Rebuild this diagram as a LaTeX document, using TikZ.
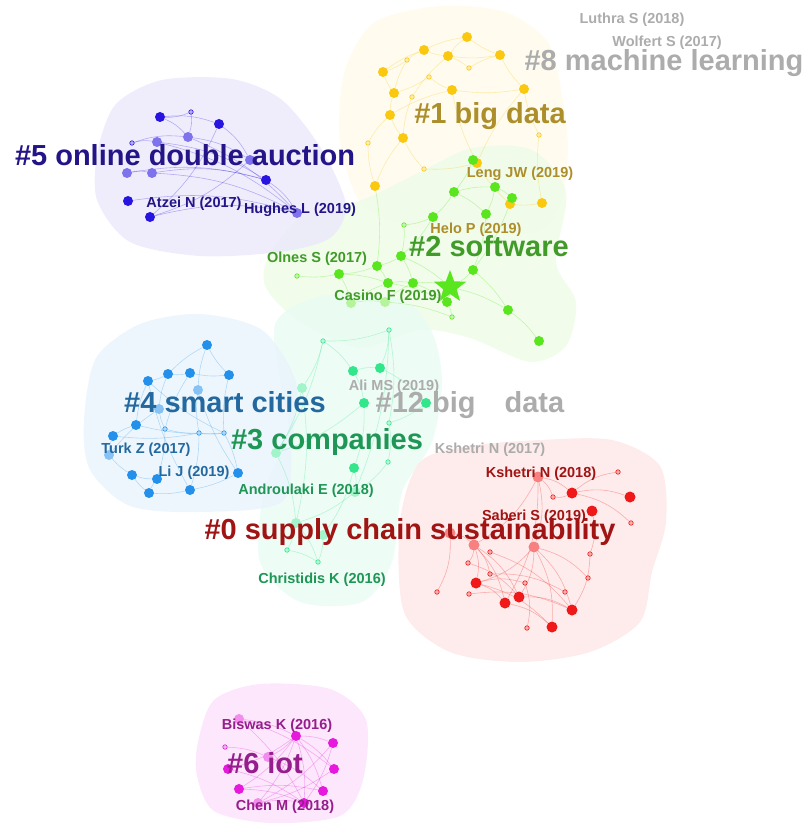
\documentclass[tikz,border=0pt]{standalone}
\usepackage{fontspec}
\setmainfont{Liberation Sans}
\usetikzlibrary{shapes.geometric,backgrounds}
\definecolor{auction}{RGB}{40,20,225}
\definecolor{auctiontxt}{RGB}{35,20,135}
\definecolor{bigdata}{RGB}{250,200,15}
\definecolor{bigdatatxt}{RGB}{172,142,42}
\definecolor{softw}{RGB}{90,230,30}
\definecolor{softwtxt}{RGB}{65,155,40}
\definecolor{firms}{RGB}{50,230,140}
\definecolor{firmstxt}{RGB}{30,150,85}
\definecolor{cities}{RGB}{35,145,235}
\definecolor{citiestxt}{RGB}{35,105,160}
\definecolor{supply}{RGB}{240,25,25}
\definecolor{supplytxt}{RGB}{160,20,20}
\definecolor{iot}{RGB}{230,25,220}
\definecolor{iottxt}{RGB}{150,30,140}
\definecolor{faded}{RGB}{172,172,172}
\tikzset{
  hull/.style={fill=#1,draw=none,opacity=0.85},
  dot/.style={circle,fill=#1,inner sep=0pt,minimum size=10pt},
  dot/.default=auction,
  seed/.style={circle,draw=#1,fill=#1!35,line width=0.6pt,inner sep=0pt,minimum size=4.5pt},
  link/.style={draw=#1,opacity=0.3,line width=0.6pt},
  cluster/.style={text=#1,anchor=base,inner sep=0pt,font=\fontsize{29}{30}\selectfont\bfseries},
  paper/.style={text=#1,anchor=base,inner sep=0pt,font=\fontsize{14.5}{15}\selectfont\bfseries},
}
\begin{document}
\begin{tikzpicture}[x=1pt,y=-1pt]
  \useasboundingbox (0,0) rectangle (807,829);
  % cluster areas
  \begin{scope}[on background layer]
    \fill[hull=bigdata!8] plot[smooth cycle] coordinates {(345,70) (375,22) (440,6) (505,12) (548,42) (562,95) (568,150) (560,205) (535,232) (470,232) (415,226) (362,205) (340,140)};
    \fill[hull=softw!10] plot[smooth cycle] coordinates {(268,258) (300,218) (362,200) (420,172) (472,148) (532,150) (566,192) (556,262) (576,302) (566,346) (530,362) (470,338) (420,330) (360,348) (300,322) (266,288)};
    \fill[hull=firms!10] plot[smooth cycle] coordinates {(276,322) (322,296) (402,300) (432,332) (442,382) (432,442) (402,492) (392,562) (362,602) (300,602) (260,562) (264,492) (288,432) (280,382)};
    \fill[hull=cities!9] plot[smooth cycle] coordinates {(84,420) (96,358) (140,324) (200,314) (262,330) (296,382) (292,442) (282,502) (200,512) (130,506) (90,470)};
    \fill[hull=auction!9] plot[smooth cycle] coordinates {(98,150) (116,104) (162,80) (232,79) (282,100) (322,150) (346,205) (330,238) (280,252) (200,256) (130,242) (97,200)};
    \fill[hull=supply!10] plot[smooth cycle] coordinates {(400,522) (420,462) (470,446) (540,440) (612,440) (660,466) (666,522) (652,572) (640,622) (590,652) (520,662) (450,652) (404,612)};
    \fill[hull=iot!12] plot[smooth cycle] coordinates {(198,742) (214,700) (260,684) (330,689) (366,720) (363,780) (340,816) (270,823) (214,811) (197,776)};
  \end{scope}
  % articles
  \foreach \n/\x/\y in {u1/160/117,u3/219/124,u10/266/180,u11/128/201,u12/150/217}
    \node[dot=auction] (\n) at (\x,\y) {};
  \foreach \n/\x/\y in {u5/157/142,u6/188/137,u7/250/160,u8/127/173,u9/152/173,u13/297/213}
    \node[dot=auction!60] (\n) at (\x,\y) {};
  \foreach \n/\x/\y in {u2/191/112,u4/132/143}
    \node[seed=auction] (\n) at (\x,\y) {};
  \foreach \n/\x/\y in {y1/467/37,y2/424/50,y3/448/56,y4/500/55,y5/383/72,y6/394/93,y7/452/90,y8/524/89,y9/390/115,y10/403/138,y11/375/186,y12/477/163,y13/510/204,y14/542/203}
    \node[dot=bigdata] (\n) at (\x,\y) {};
  \foreach \n/\x/\y in {ya/407/60,yb/429/77,yc/469/68,yd/412/97,ye/539/135,yf/368/143,yg/424/169}
    \node[seed=bigdata] (\n) at (\x,\y) {};
  \foreach \n/\x/\y in {g1/454/192,g2/495/187,g3/512/198,g4/486/214,g5/433/217,g6/401/256,g7/377/266,g8/339/274,g9/388/283,g10/413/283,g11/473/270,g12/447/302,g15/508/310,g16/539/341,g17/473/160}
    \node[dot=softw] (\n) at (\x,\y) {};
  \foreach \n/\x/\y in {g13/351/303,g14/385/302}
    \node[dot=softw!45] (\n) at (\x,\y) {};
  \foreach \n/\x/\y in {ga/404/225,gb/297/276,gc/452/317}
    \node[seed=softw] (\n) at (\x,\y) {};
  \node[star,star points=5,star point ratio=2.4,fill=softw,inner sep=0pt,minimum size=34pt] (gs) at (450,287) {};
  \foreach \n/\x/\y in {t1/353/371,t2/380/368,t4/364/403,t5/426/403,t7/354/468}
    \node[dot=firms] (\n) at (\x,\y) {};
  \foreach \n/\x/\y in {t3/302/388,t6/276/453,t8/355/492,t9/296/523,t10/323/535}
    \node[dot=firms!45] (\n) at (\x,\y) {};
  \foreach \n/\x/\y in {ta/389/330,tb/323/341,tc/389/423,td/388/462,te/287/550,tf/318/562}
    \node[seed=firms] (\n) at (\x,\y) {};
  \foreach \n/\x/\y in {b1/207/345,b2/148/381,b3/168/374,b4/190/373,b5/229/375,b8/136/425,b9/113/436,b11/132/475,b12/157/479,b13/149/493,b14/190/490,b15/238/473}
    \node[dot=cities] (\n) at (\x,\y) {};
  \foreach \n/\x/\y in {b6/198/390,b7/159/409,b10/109/455}
    \node[dot=cities!55] (\n) at (\x,\y) {};
  \foreach \n/\x/\y in {ba/165/429,bb/199/433,bc/224/433}
    \node[seed=cities] (\n) at (\x,\y) {};
  \foreach \n/\x/\y in {r2/572/493,r3/630/497,r4/592/511,r8/476/583,r9/519/597,r10/505/603,r11/572/610,r12/552/627}
    \node[dot=supply,minimum size=11pt] (\n) at (\x,\y) {};
  \foreach \n/\x/\y in {r1/538/477,r5/450/533,r6/474/545,r7/534/547}
    \node[dot=supply!55,minimum size=11pt] (\n) at (\x,\y) {};
  \foreach \n/\x/\y in {ra/618/472,rb/553/497,rc/631/523,rd/590/554,re/490/552,rf/468/563,rg/490/574,rh/588/578,ri/525/583,rj/437/592,rk/469/594,rl/565/592,rm/527/628}
    \node[seed=supply] (\n) at (\x,\y) {};
  \foreach \n/\x/\y in {m2/296/736,m3/333/743,m5/228/769,m6/334/769,m7/239/789,m8/323/791,m10/304/803}
    \node[dot=iot] (\n) at (\x,\y) {};
  \foreach \n/\x/\y in {m1/239/719,m4/268/757,m9/258/803}
    \node[dot=iot!50] (\n) at (\x,\y) {};
  \node[seed=iot] (ma) at (225,747) {};
  % co-citation links
  \begin{scope}[on background layer]
    \foreach \a/\b in {u1/u3,u1/u6,u2/u6,u2/u1,u4/u6,u4/u5,u5/u10,u6/u7,u3/u7,u5/u13,u6/u13,u8/u10,u9/u10,u9/u13,u7/u12,u10/u13,u11/u13,u12/u13,u8/u9,u3/u12}
      \draw[link=auction] (\a) to[bend left=12] (\b);
    \foreach \a/\b in {y1/y2,y1/y3,y1/y4,y2/y5,y2/y3,y3/y4,y4/y8,y5/y6,y6/y9,y9/y10,y10/y11,y2/ya,ya/y6,yb/y7,yc/y3,y3/yd,y7/y9,y4/yc,y8/ye,ye/y14,y10/yg,yf/y11,yg/y12,y12/y13,y13/y14,y7/y8,y6/yb,y5/ya,yd/y10,y9/yf,y7/y12,y8/y12}
      \draw[link=bigdata] (\a) to[bend right=8] (\b);
    \foreach \a/\b in {g17/g1,g1/g2,g2/g3,g2/g4,g1/g4,g1/g5,g3/g11,g4/g11,g5/ga,ga/g6,g6/g7,g7/g8,g8/gb,g8/g9,g7/g9,g9/g10,g6/g10,g10/gs,g11/gs,gs/g12,g12/gc,g9/g12,g13/g9,g14/g10,g8/g13,g11/g15,g15/g16,gs/g15,g5/g6,g6/gs,g10/g12,g14/gc,g13/g14,y11/g7,y13/g3}
      \draw[link=softw] (\a) to[bend left=8] (\b);
    \foreach \a/\b in {ta/tb,ta/t2,tb/t1,tb/t3,t1/t2,t1/t4,t2/t5,ta/tc,tc/td,t3/t6,t4/t7,t5/tc,t6/t9,t7/t8,td/t8,t8/t9,t9/te,t9/tf,t10/tf,t3/t9,tb/t6,ta/t8,t7/t10,te/tf,t4/t6}
      \draw[link=firms] (\a) to[bend left=10] (\b);
    \foreach \a/\b in {b1/b3,b1/b5,b1/b6,b2/b3,b3/b4,b4/b5,b2/b8,b3/b7,b4/ba,b5/bc,b6/bb,b7/ba,b8/b9,b9/b10,b10/b11,b11/b13,b12/b13,b13/b14,b14/b15,b15/bc,ba/bb,bb/bc,b8/bc,b9/bb,b2/bc,b12/ba,b14/bb,b11/b12,b7/b10,b6/b15,b2/b14}
      \draw[link=cities] (\a) to[bend right=8] (\b);
    \foreach \a/\b in {r1/r2,r1/rb,r1/r7,r1/r6,r2/ra,r2/r3,r2/rc,r2/rb,r7/r9,r7/r11,r7/r12,r7/rh,r5/rj,r6/r8,r6/r10,r6/rf,r6/rg,r8/r10,r8/r12,r9/r11,r10/r12,rf/r9,re/r11,rg/rl,rk/r11,ri/rm,r4/rd,r6/r9,r5/r6,r8/ri,rd/r11,r7/r8,r1/r10}
      \draw[link=supply] (\a) to[bend left=15] (\b);
    \foreach \a/\b in {m1/m2,m2/m3,m2/m4,m2/m5,m2/m6,m2/m7,m2/m8,m2/m9,m2/m10,m3/m10,m3/m9,m4/m8,m5/m10,m7/m10,m6/m9,ma/m4,m1/m6,m7/m8,m9/m10,m1/m10}
      \draw[link=iot] (\a) to[bend left=10] (\b);
  \end{scope}
  % article labels
  \node[paper=auctiontxt] (atzei) at (194,207) {Atzei N (2017)};
  \node[paper=auctiontxt] (hughes) at (300,213) {Hughes L (2019)};
  \node[paper=faded] (luthra) at (632,24) {Luthra S (2018)};
  \node[paper=faded] (wolfert) at (667,47) {Wolfert S (2017)};
  \node[paper=bigdatatxt] (leng) at (520,178) {Leng JW (2019)};
  \node[paper=bigdatatxt] (helo) at (476,233) {Helo P (2019)};
  \node[paper=softwtxt] (olnes) at (317,262) {Olnes S (2017)};
  \node[paper=softwtxt] (casino) at (388,300) {Casino F (2019)};
  \node[paper=faded] (ali) at (394,390) {Ali MS (2019)};
  \node[paper=citiestxt] (turk) at (146,453) {Turk Z (2017)};
  \node[paper=citiestxt] (lij) at (194,476) {Li J (2019)};
  \node[paper=faded] (kshetri17) at (490,453) {Kshetri N (2017)};
  \node[paper=supplytxt] (kshetri18) at (541,477) {Kshetri N (2018)};
  \node[paper=firmstxt] (androulaki) at (306,494) {Androulaki E (2018)};
  \node[paper=supplytxt] (saberi) at (534,520) {Saberi S (2019)};
  \node[paper=firmstxt] (christidis) at (322,583) {Christidis K (2016)};
  \node[paper=iottxt] (biswas) at (277,729) {Biswas K (2016)};
  \node[paper=iottxt] (chen) at (285,810) {Chen M (2018)};
  % cluster labels
  \node[cluster=auctiontxt] (c5) at (185,165) {\#5 online double auction};
  \node[cluster=bigdatatxt] (c1) at (490,124) {\#1 big data};
  \node[cluster=faded] (c8) at (664,71) {\#8 machine learning};
  \node[cluster=softwtxt] (c2) at (489,256) {\#2 software};
  \node[cluster=citiestxt] (c4) at (225,412) {\#4 smart cities};
  \node[cluster=faded] (c12) at (470,412) {\#12 big\quad data};
  \node[cluster=firmstxt] (c3) at (327,449) {\#3 companies};
  \node[cluster=supplytxt] (c0) at (410,539) {\#0 supply chain sustainability};
  \node[cluster=iottxt] (c6) at (265,773) {\#6 iot};
\end{tikzpicture}
\end{document}
